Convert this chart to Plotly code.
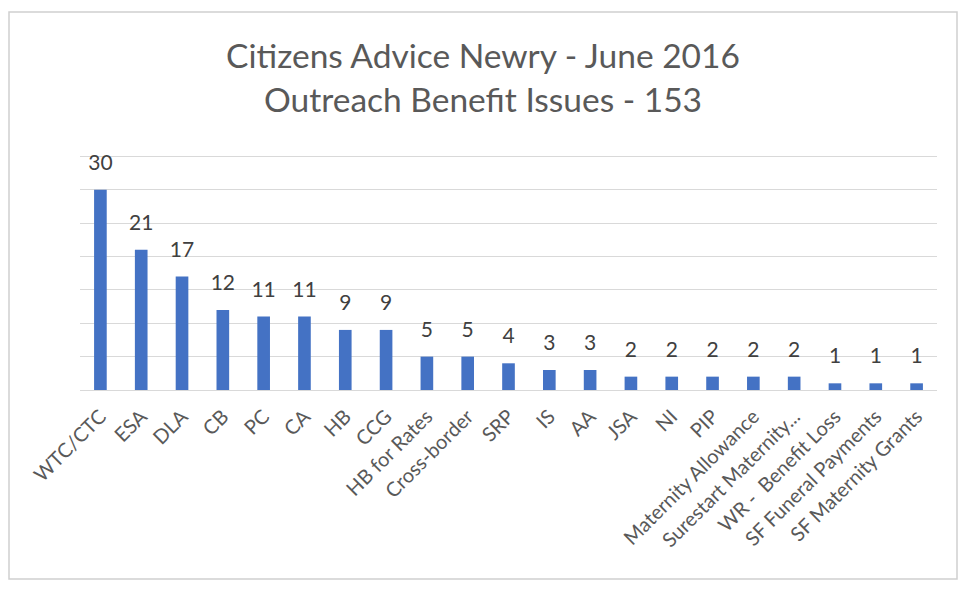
import plotly.graph_objects as go

categories = ["WTC/CTC", "ESA", "DLA", "CB", "PC", "CA", "HB", "CCG", "HB for Rates",
              "Cross-border", "SRP", "IS", "AA", "JSA", "NI", "PIP", "Maternity Allowance",
              "Surestart Maternity...", "WR -  Benefit Loss", "SF Funeral Payments",
              "SF Maternity Grants"]
values = [30, 21, 17, 12, 11, 11, 9, 9, 5, 5, 4, 3, 3, 2, 2, 2, 2, 2, 1, 1, 1]
title_lines = ["Citizens Advice Newry - June 2016", "Outreach Benefit Issues - 153"]

FONT = "Lato, Open Sans, sans-serif"

W, H = 950, 573
L, T, PW, PH = 72, 145, 857, 237

fig = go.Figure()
fig.add_trace(go.Bar(
    x=categories, y=values,
    marker=dict(color="#4472C4", line=dict(width=0)),
    width=0.31, hoverinfo="x+y",
))
fig.add_trace(go.Scatter(
    x=categories, y=values, mode="markers+text",
    marker=dict(size=22, color="rgba(0,0,0,0)"),
    text=[str(v) for v in values], textposition="top center", cliponaxis=False,
    textfont=dict(family=FONT, size=21, color="#404040"), hoverinfo="skip",
))

fig.update_layout(
    width=W, height=H,
    paper_bgcolor="white", plot_bgcolor="white",
    margin=dict(l=L, r=W - L - PW, t=T, b=H - T - PH, autoexpand=False),
    title=dict(text="<br>".join(title_lines), x=0.5, xanchor="center",
               y=0.895, yanchor="middle",
               font=dict(family=FONT, size=33.5, color="#595959")),
    showlegend=False,
    bargap=0.69,
    xaxis=dict(tickangle=-45, tickfont=dict(family=FONT, size=20, color="#595959"),
               range=[-0.5, len(categories) - 0.5], ticklabelstandoff=6,
               showline=True, linecolor="#D9D9D9", linewidth=1, ticks="",
               showgrid=False, automargin=False),
    yaxis=dict(range=[0, 35.5], tickvals=[5, 10, 15, 20, 25, 30, 35],
               showticklabels=False, gridcolor="#D9D9D9",
               gridwidth=1, zeroline=False, showline=False, ticks="", automargin=False),
    shapes=[dict(type="rect", xref="paper", yref="paper",
                 x0=(1 - L) / PW, x1=(W - 1 - L) / PW,
                 y0=(T + PH - (H - 2)) / PH, y1=(T + PH - 4) / PH,
                 line=dict(color="#D0D0D0", width=1.5))],
)
fig.write_html("out.html")
